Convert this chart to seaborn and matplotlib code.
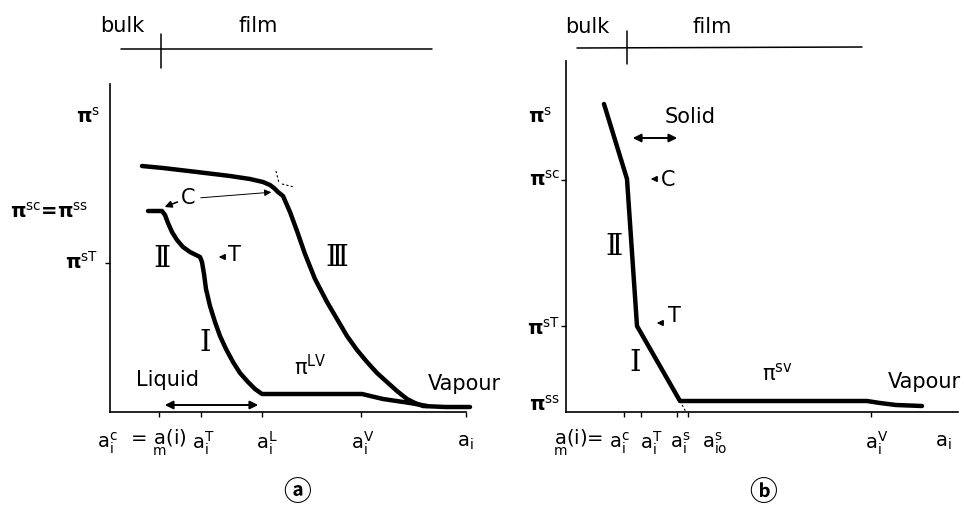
import numpy as np
import pandas as pd
import seaborn as sns
import matplotlib.pyplot as plt

# panel (a): axis origin at the corner of the two spines, units are ~pixels
a_top_x = [32, 53, 87, 120, 140, 153, 160, 164, 168, 173, 180, 187, 195, 205, 217, 227,
           237, 247, 257, 267, 277, 287, 297, 305, 313, 335, 360]
a_top_y = [246, 244, 240, 236, 233, 230, 227, 224, 220, 216, 200, 181, 158, 133, 110, 93,
           76, 62, 50, 39, 30, 21, 13, 9, 6, 5, 5]
a_low_x = [38, 52, 55, 58, 62, 67, 73, 80, 86, 90, 92, 94, 96, 100, 105, 110, 116, 123,
           130, 138, 145, 152, 252, 273, 300, 317]
a_low_y = [201, 201, 197, 189, 180, 172, 165, 160, 157, 155, 150, 138, 123, 106, 90, 76,
           63, 50, 39, 30, 23, 18, 18, 13, 9, 6]
a_xticks = [49, 91, 152, 251, 356]
a_yticks = [149]
a_xlabels = [r"$\mathrm{a}_{\mathrm{i}}^{\mathrm{c}}$",
             r"= $\underset{\mathrm{m}}{\mathrm{a}}(\mathrm{i})$",
             r"$\mathrm{a}_{\mathrm{i}}^{\mathrm{T}}$", r"$\mathrm{a}_{\mathrm{i}}^{\mathrm{L}}$",
             r"$\mathrm{a}_{\mathrm{i}}^{\mathrm{V}}$", r"$\mathrm{a}_{\mathrm{i}}$"]
a_xlabel_pos = [-3, 48, 93, 157, 253, 355]

# panel (b)
b_x = [38, 61, 71, 114, 301, 314, 330, 356]
b_y = [308, 233, 86, 11, 11, 9, 7, 6]
b_xticks = [58, 75, 111, 122, 305]
b_yticks = [232, 86]
b_xlabels = [r"$\underset{\mathrm{m}}{\mathrm{a}}(\mathrm{i})$=",
             r"$\mathrm{a}_{\mathrm{i}}^{\mathrm{c}}$",
             r"$\mathrm{a}_{\mathrm{i}}^{\mathrm{T}}$", r"$\mathrm{a}_{\mathrm{i}}^{\mathrm{s}}$",
             r"$\mathrm{a}_{\mathrm{io}}^{\mathrm{s}}$", r"$\mathrm{a}_{\mathrm{i}}^{\mathrm{V}}$",
             r"$\mathrm{a}_{\mathrm{i}}$"]
b_xlabel_pos = [12, 53, 85, 114, 149, 311, 377]

sns.set_theme(style="white")
plt.rcParams["font.family"] = ["DejaVu Sans"]
plt.rcParams["mathtext.fontset"] = "dejavusans"

fig = plt.figure(figsize=(9.65, 5.06), dpi=100)
axa = fig.add_axes([0, 0, 0.5, 1])
axb = fig.add_axes([0.5, 0, 0.5, 1])
axa.set_xlim(-110, 372.5)
axb.set_xlim(-83.5, 399)
for ax in (axa, axb):
    ax.set_ylim(-93, 413)
    ax.patch.set_alpha(0)
    for s in ("top", "right"):
        ax.spines[s].set_visible(False)
    for s in ("left", "bottom"):
        ax.spines[s].set_position(("data", 0))
        ax.spines[s].set_color("black")
        ax.spines[s].set_linewidth(1.2)
    ax.tick_params(bottom=True, left=True, direction="out", length=3.5, width=1.0,
                   color="black", labelbottom=False, labelleft=False)

axa.spines["left"].set_bounds(0, 328)
axa.spines["bottom"].set_bounds(0, 356)
axb.spines["left"].set_bounds(0, 351)
axb.spines["bottom"].set_bounds(0, 392)
axa.set_xticks(a_xticks)
axa.set_yticks(a_yticks)
axb.set_xticks(b_xticks)
axb.set_yticks(b_yticks)

lw = 3.2
sns.lineplot(x=a_top_x, y=a_top_y, sort=False, ax=axa, color="black", lw=lw)
sns.lineplot(x=a_low_x, y=a_low_y, sort=False, ax=axa, color="black", lw=lw)
sns.lineplot(x=b_x, y=b_y, sort=False, ax=axb, color="black", lw=lw)

# little dashed tangents at the kinks
axa.plot([166, 169], [241, 229], color="black", lw=0.8, ls=(0, (2, 2)))
axa.plot([172, 184], [228, 225], color="black", lw=0.8, ls=(0, (2, 2)))
axb.plot([114, 120], [11, 0], color="black", lw=0.8, ls=(0, (2, 2)))

# bulk / film bars
axa.plot([11, 322], [363, 363], color="black", lw=1.1, clip_on=False)
axa.plot([51, 51], [378, 344], color="black", lw=1.1)
axb.plot([11, 296], [364, 365], color="black", lw=1.1)
axb.plot([61, 61], [381, 348], color="black", lw=1.1)

word = dict(fontsize=15, color="black", va="center", ha="center")
roman = dict(fontsize=21, color="black", va="center", ha="center",
             family=["DejaVu Serif", "DejaVu Sans"])
pil = dict(fontsize=14, color="black", va="center", ha="right", fontweight="bold")
circ = dict(fontsize=20, color="black", va="center", ha="center", fontweight="bold",
            family=["Noto Sans CJK JP", "DejaVu Sans"])

for ax, xb, xf, yb in ((axa, 12, 148, 387), (axb, 21, 146, 386)):
    ax.text(xb, yb, "bulk", **word)
    ax.text(xf, yb, "film", **word)

# panel (a) annotations
axa.text(-10, 296, r"π$^{\mathrm{s}}$", **pil)
axa.text(-22, 201, r"π$^{\mathrm{sc}}$=π$^{\mathrm{ss}}$", **pil)
axa.text(-12, 151, r"π$^{\mathrm{sT}}$", **pil)
axa.text(78, 215, "C", **word)
axa.annotate("", xy=(52, 204), xytext=(70, 211),
             arrowprops=dict(arrowstyle="-|>", color="black", lw=1.2, mutation_scale=10))
axa.annotate("", xy=(164, 220), xytext=(88, 214),
             arrowprops=dict(arrowstyle="-|>", color="black", lw=0.7, mutation_scale=10))
axa.text(124, 158, "T", **word)
axa.annotate("", xy=(106, 155), xytext=(115, 155),
             arrowprops=dict(arrowstyle="-|>", color="black", lw=1.2, mutation_scale=8))
axa.text(52, 154, "Ⅱ", **roman)
axa.text(227, 155, "Ⅲ", **roman)
axa.text(95, 70, "Ⅰ", **roman)
axa.text(200, 46, r"π$^{\mathrm{LV}}$", fontsize=15, color="black", va="center", ha="center")
axa.text(58, 33, "Liquid", **word)
axa.annotate("", xy=(52, 7), xytext=(151, 7),
             arrowprops=dict(arrowstyle="<|-|>", color="black", lw=1.4, mutation_scale=12))
axa.text(318, 29, "Vapour", fontsize=15, color="black", va="center", ha="left")
axa.text(187, -80, "ⓐ", **circ)
for lab, xp in zip(a_xlabels, a_xlabel_pos):
    axa.text(xp, -30, lab, fontsize=14, color="black", va="center", ha="center")

# panel (b) annotations
axb.text(-14, 296, r"π$^{\mathrm{s}}$", **pil)
axb.text(-6, 233, r"π$^{\mathrm{sc}}$", **pil)
axb.text(-6, 85, r"π$^{\mathrm{sT}}$", **pil)
axb.text(-6, 8, r"π$^{\mathrm{ss}}$", **pil)
axb.text(124, 296, "Solid", **word)
axb.annotate("", xy=(64, 274), xytext=(114, 274),
             arrowprops=dict(arrowstyle="<|-|>", color="black", lw=1.4, mutation_scale=12))
axb.text(102, 233, "C", **word)
axb.annotate("", xy=(82, 233), xytext=(91, 233),
             arrowprops=dict(arrowstyle="-|>", color="black", lw=1.2, mutation_scale=8))
axb.text(48, 166, "Ⅱ", **roman)
axb.text(108, 97, "T", **word)
axb.annotate("", xy=(88, 89), xytext=(97, 89),
             arrowprops=dict(arrowstyle="-|>", color="black", lw=1.2, mutation_scale=8))
axb.text(69, 50, "Ⅰ", **roman)
axb.text(211, 40, r"π$^{\mathrm{sv}}$", fontsize=15, color="black", va="center", ha="center")
axb.text(358, 31, "Vapour", **word)
axb.text(197, -80, "ⓑ", **circ)
for lab, xp in zip(b_xlabels, b_xlabel_pos):
    axb.text(xp, -30, lab, fontsize=14, color="black", va="center", ha="center")

fig.savefig("out.png", dpi=100, facecolor="white")
